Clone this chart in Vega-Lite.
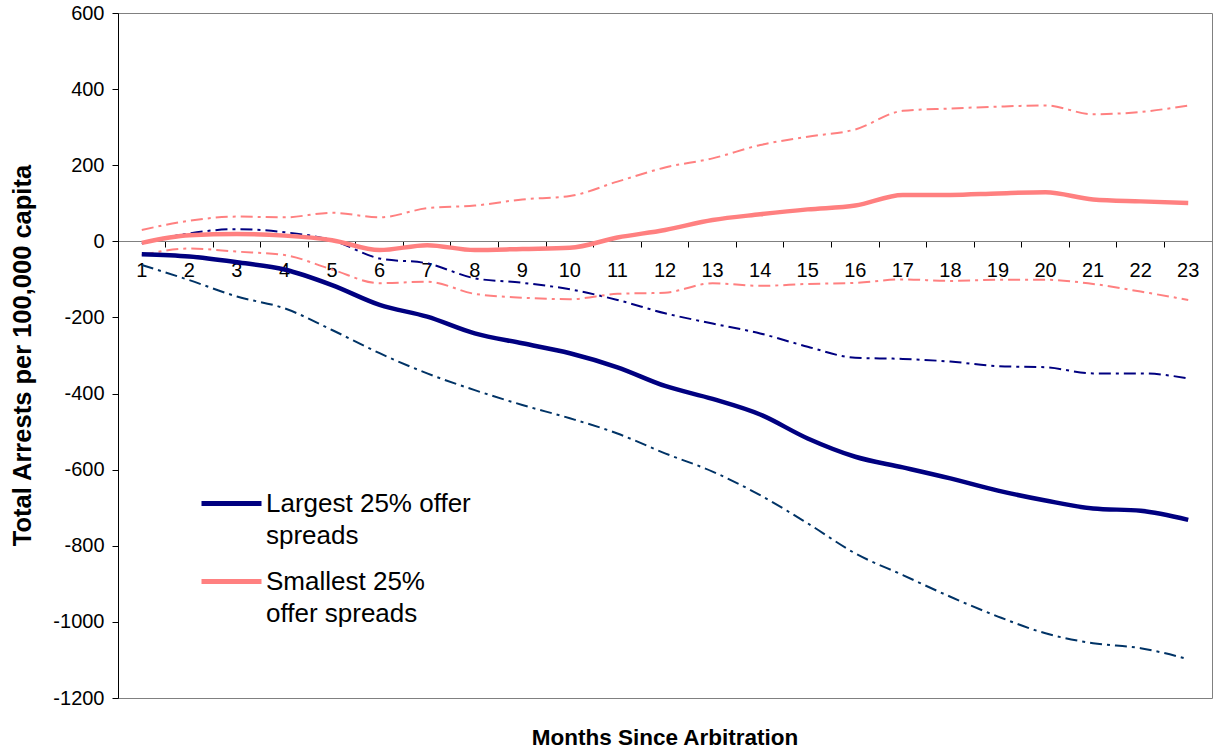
{
  "$schema": "https://vega.github.io/schema/vega-lite/v6.json",
  "width": 1094,
  "height": 685,
  "autosize": {"type": "none"},
  "padding": {"left": 118, "top": 13, "right": 4, "bottom": 53},
  "config": {
    "font": "Liberation Sans",
    "view": {"stroke": "#808080", "strokeWidth": 1},
    "axis": {"grid": false}
  },
  "title": {
    "text": "Months Since Arbitration",
    "orient": "bottom",
    "frame": "group",
    "anchor": "middle",
    "fontSize": 22.5,
    "fontWeight": "bold",
    "font": "Liberation Sans",
    "color": "black",
    "offset": 19
  },
  "datasets": {
    "arrests": [
      {"month": 1, "group": "Largest 25% offer spreads", "line": "Largest estimate", "value": -34},
      {"month": 2, "group": "Largest 25% offer spreads", "line": "Largest estimate", "value": -40},
      {"month": 3, "group": "Largest 25% offer spreads", "line": "Largest estimate", "value": -55},
      {"month": 4, "group": "Largest 25% offer spreads", "line": "Largest estimate", "value": -74},
      {"month": 5, "group": "Largest 25% offer spreads", "line": "Largest estimate", "value": -115},
      {"month": 6, "group": "Largest 25% offer spreads", "line": "Largest estimate", "value": -167},
      {"month": 7, "group": "Largest 25% offer spreads", "line": "Largest estimate", "value": -198},
      {"month": 8, "group": "Largest 25% offer spreads", "line": "Largest estimate", "value": -242},
      {"month": 9, "group": "Largest 25% offer spreads", "line": "Largest estimate", "value": -268},
      {"month": 10, "group": "Largest 25% offer spreads", "line": "Largest estimate", "value": -294},
      {"month": 11, "group": "Largest 25% offer spreads", "line": "Largest estimate", "value": -331},
      {"month": 12, "group": "Largest 25% offer spreads", "line": "Largest estimate", "value": -380},
      {"month": 13, "group": "Largest 25% offer spreads", "line": "Largest estimate", "value": -414},
      {"month": 14, "group": "Largest 25% offer spreads", "line": "Largest estimate", "value": -455},
      {"month": 15, "group": "Largest 25% offer spreads", "line": "Largest estimate", "value": -518},
      {"month": 16, "group": "Largest 25% offer spreads", "line": "Largest estimate", "value": -566},
      {"month": 17, "group": "Largest 25% offer spreads", "line": "Largest estimate", "value": -594},
      {"month": 18, "group": "Largest 25% offer spreads", "line": "Largest estimate", "value": -623},
      {"month": 19, "group": "Largest 25% offer spreads", "line": "Largest estimate", "value": -655},
      {"month": 20, "group": "Largest 25% offer spreads", "line": "Largest estimate", "value": -681},
      {"month": 21, "group": "Largest 25% offer spreads", "line": "Largest estimate", "value": -702},
      {"month": 22, "group": "Largest 25% offer spreads", "line": "Largest estimate", "value": -708},
      {"month": 23, "group": "Largest 25% offer spreads", "line": "Largest estimate", "value": -732},

      {"month": 1, "group": "Largest 25% offer spreads", "line": "Largest upper", "value": -6},
      {"month": 2, "group": "Largest 25% offer spreads", "line": "Largest upper", "value": 21},
      {"month": 3, "group": "Largest 25% offer spreads", "line": "Largest upper", "value": 32},
      {"month": 4, "group": "Largest 25% offer spreads", "line": "Largest upper", "value": 24},
      {"month": 5, "group": "Largest 25% offer spreads", "line": "Largest upper", "value": 3},
      {"month": 6, "group": "Largest 25% offer spreads", "line": "Largest upper", "value": -45},
      {"month": 7, "group": "Largest 25% offer spreads", "line": "Largest upper", "value": -58},
      {"month": 8, "group": "Largest 25% offer spreads", "line": "Largest upper", "value": -97},
      {"month": 9, "group": "Largest 25% offer spreads", "line": "Largest upper", "value": -109},
      {"month": 10, "group": "Largest 25% offer spreads", "line": "Largest upper", "value": -126},
      {"month": 11, "group": "Largest 25% offer spreads", "line": "Largest upper", "value": -154},
      {"month": 12, "group": "Largest 25% offer spreads", "line": "Largest upper", "value": -189},
      {"month": 13, "group": "Largest 25% offer spreads", "line": "Largest upper", "value": -216},
      {"month": 14, "group": "Largest 25% offer spreads", "line": "Largest upper", "value": -242},
      {"month": 15, "group": "Largest 25% offer spreads", "line": "Largest upper", "value": -277},
      {"month": 16, "group": "Largest 25% offer spreads", "line": "Largest upper", "value": -306},
      {"month": 17, "group": "Largest 25% offer spreads", "line": "Largest upper", "value": -309},
      {"month": 18, "group": "Largest 25% offer spreads", "line": "Largest upper", "value": -316},
      {"month": 19, "group": "Largest 25% offer spreads", "line": "Largest upper", "value": -328},
      {"month": 20, "group": "Largest 25% offer spreads", "line": "Largest upper", "value": -331},
      {"month": 21, "group": "Largest 25% offer spreads", "line": "Largest upper", "value": -347},
      {"month": 22, "group": "Largest 25% offer spreads", "line": "Largest upper", "value": -347},
      {"month": 23, "group": "Largest 25% offer spreads", "line": "Largest upper", "value": -360},

      {"month": 1, "group": "Largest 25% offer spreads", "line": "Largest lower", "value": -62},
      {"month": 2, "group": "Largest 25% offer spreads", "line": "Largest lower", "value": -102},
      {"month": 3, "group": "Largest 25% offer spreads", "line": "Largest lower", "value": -145},
      {"month": 4, "group": "Largest 25% offer spreads", "line": "Largest lower", "value": -176},
      {"month": 5, "group": "Largest 25% offer spreads", "line": "Largest lower", "value": -233},
      {"month": 6, "group": "Largest 25% offer spreads", "line": "Largest lower", "value": -294},
      {"month": 7, "group": "Largest 25% offer spreads", "line": "Largest lower", "value": -347},
      {"month": 8, "group": "Largest 25% offer spreads", "line": "Largest lower", "value": -391},
      {"month": 9, "group": "Largest 25% offer spreads", "line": "Largest lower", "value": -430},
      {"month": 10, "group": "Largest 25% offer spreads", "line": "Largest lower", "value": -465},
      {"month": 11, "group": "Largest 25% offer spreads", "line": "Largest lower", "value": -505},
      {"month": 12, "group": "Largest 25% offer spreads", "line": "Largest lower", "value": -557},
      {"month": 13, "group": "Largest 25% offer spreads", "line": "Largest lower", "value": -605},
      {"month": 14, "group": "Largest 25% offer spreads", "line": "Largest lower", "value": -667},
      {"month": 15, "group": "Largest 25% offer spreads", "line": "Largest lower", "value": -741},
      {"month": 16, "group": "Largest 25% offer spreads", "line": "Largest lower", "value": -820},
      {"month": 17, "group": "Largest 25% offer spreads", "line": "Largest lower", "value": -877},
      {"month": 18, "group": "Largest 25% offer spreads", "line": "Largest lower", "value": -934},
      {"month": 19, "group": "Largest 25% offer spreads", "line": "Largest lower", "value": -986},
      {"month": 20, "group": "Largest 25% offer spreads", "line": "Largest lower", "value": -1030},
      {"month": 21, "group": "Largest 25% offer spreads", "line": "Largest lower", "value": -1056},
      {"month": 22, "group": "Largest 25% offer spreads", "line": "Largest lower", "value": -1069},
      {"month": 23, "group": "Largest 25% offer spreads", "line": "Largest lower", "value": -1098},

      {"month": 1, "group": "Smallest 25% offer spreads", "line": "Smallest estimate", "value": -4},
      {"month": 2, "group": "Smallest 25% offer spreads", "line": "Smallest estimate", "value": 16},
      {"month": 3, "group": "Smallest 25% offer spreads", "line": "Smallest estimate", "value": 19},
      {"month": 4, "group": "Smallest 25% offer spreads", "line": "Smallest estimate", "value": 15},
      {"month": 5, "group": "Smallest 25% offer spreads", "line": "Smallest estimate", "value": 3},
      {"month": 6, "group": "Smallest 25% offer spreads", "line": "Smallest estimate", "value": -23},
      {"month": 7, "group": "Smallest 25% offer spreads", "line": "Smallest estimate", "value": -10},
      {"month": 8, "group": "Smallest 25% offer spreads", "line": "Smallest estimate", "value": -23},
      {"month": 9, "group": "Smallest 25% offer spreads", "line": "Smallest estimate", "value": -20},
      {"month": 10, "group": "Smallest 25% offer spreads", "line": "Smallest estimate", "value": -17},
      {"month": 11, "group": "Smallest 25% offer spreads", "line": "Smallest estimate", "value": 10},
      {"month": 12, "group": "Smallest 25% offer spreads", "line": "Smallest estimate", "value": 30},
      {"month": 13, "group": "Smallest 25% offer spreads", "line": "Smallest estimate", "value": 56},
      {"month": 14, "group": "Smallest 25% offer spreads", "line": "Smallest estimate", "value": 71},
      {"month": 15, "group": "Smallest 25% offer spreads", "line": "Smallest estimate", "value": 84},
      {"month": 16, "group": "Smallest 25% offer spreads", "line": "Smallest estimate", "value": 94},
      {"month": 17, "group": "Smallest 25% offer spreads", "line": "Smallest estimate", "value": 122},
      {"month": 18, "group": "Smallest 25% offer spreads", "line": "Smallest estimate", "value": 122},
      {"month": 19, "group": "Smallest 25% offer spreads", "line": "Smallest estimate", "value": 126},
      {"month": 20, "group": "Smallest 25% offer spreads", "line": "Smallest estimate", "value": 129},
      {"month": 21, "group": "Smallest 25% offer spreads", "line": "Smallest estimate", "value": 110},
      {"month": 22, "group": "Smallest 25% offer spreads", "line": "Smallest estimate", "value": 105},
      {"month": 23, "group": "Smallest 25% offer spreads", "line": "Smallest estimate", "value": 101},

      {"month": 1, "group": "Smallest 25% offer spreads", "line": "Smallest upper", "value": 30},
      {"month": 2, "group": "Smallest 25% offer spreads", "line": "Smallest upper", "value": 54},
      {"month": 3, "group": "Smallest 25% offer spreads", "line": "Smallest upper", "value": 65},
      {"month": 4, "group": "Smallest 25% offer spreads", "line": "Smallest upper", "value": 63},
      {"month": 5, "group": "Smallest 25% offer spreads", "line": "Smallest upper", "value": 75},
      {"month": 6, "group": "Smallest 25% offer spreads", "line": "Smallest upper", "value": 63},
      {"month": 7, "group": "Smallest 25% offer spreads", "line": "Smallest upper", "value": 87},
      {"month": 8, "group": "Smallest 25% offer spreads", "line": "Smallest upper", "value": 94},
      {"month": 9, "group": "Smallest 25% offer spreads", "line": "Smallest upper", "value": 110},
      {"month": 10, "group": "Smallest 25% offer spreads", "line": "Smallest upper", "value": 119},
      {"month": 11, "group": "Smallest 25% offer spreads", "line": "Smallest upper", "value": 157},
      {"month": 12, "group": "Smallest 25% offer spreads", "line": "Smallest upper", "value": 194},
      {"month": 13, "group": "Smallest 25% offer spreads", "line": "Smallest upper", "value": 218},
      {"month": 14, "group": "Smallest 25% offer spreads", "line": "Smallest upper", "value": 253},
      {"month": 15, "group": "Smallest 25% offer spreads", "line": "Smallest upper", "value": 275},
      {"month": 16, "group": "Smallest 25% offer spreads", "line": "Smallest upper", "value": 294},
      {"month": 17, "group": "Smallest 25% offer spreads", "line": "Smallest upper", "value": 343},
      {"month": 18, "group": "Smallest 25% offer spreads", "line": "Smallest upper", "value": 349},
      {"month": 19, "group": "Smallest 25% offer spreads", "line": "Smallest upper", "value": 354},
      {"month": 20, "group": "Smallest 25% offer spreads", "line": "Smallest upper", "value": 357},
      {"month": 21, "group": "Smallest 25% offer spreads", "line": "Smallest upper", "value": 334},
      {"month": 22, "group": "Smallest 25% offer spreads", "line": "Smallest upper", "value": 340},
      {"month": 23, "group": "Smallest 25% offer spreads", "line": "Smallest upper", "value": 357},

      {"month": 1, "group": "Smallest 25% offer spreads", "line": "Smallest lower", "value": -36},
      {"month": 2, "group": "Smallest 25% offer spreads", "line": "Smallest lower", "value": -19},
      {"month": 3, "group": "Smallest 25% offer spreads", "line": "Smallest lower", "value": -27},
      {"month": 4, "group": "Smallest 25% offer spreads", "line": "Smallest lower", "value": -36},
      {"month": 5, "group": "Smallest 25% offer spreads", "line": "Smallest lower", "value": -74},
      {"month": 6, "group": "Smallest 25% offer spreads", "line": "Smallest lower", "value": -110},
      {"month": 7, "group": "Smallest 25% offer spreads", "line": "Smallest lower", "value": -106},
      {"month": 8, "group": "Smallest 25% offer spreads", "line": "Smallest lower", "value": -138},
      {"month": 9, "group": "Smallest 25% offer spreads", "line": "Smallest lower", "value": -148},
      {"month": 10, "group": "Smallest 25% offer spreads", "line": "Smallest lower", "value": -152},
      {"month": 11, "group": "Smallest 25% offer spreads", "line": "Smallest lower", "value": -138},
      {"month": 12, "group": "Smallest 25% offer spreads", "line": "Smallest lower", "value": -135},
      {"month": 13, "group": "Smallest 25% offer spreads", "line": "Smallest lower", "value": -110},
      {"month": 14, "group": "Smallest 25% offer spreads", "line": "Smallest lower", "value": -117},
      {"month": 15, "group": "Smallest 25% offer spreads", "line": "Smallest lower", "value": -112},
      {"month": 16, "group": "Smallest 25% offer spreads", "line": "Smallest lower", "value": -109},
      {"month": 17, "group": "Smallest 25% offer spreads", "line": "Smallest lower", "value": -100},
      {"month": 18, "group": "Smallest 25% offer spreads", "line": "Smallest lower", "value": -104},
      {"month": 19, "group": "Smallest 25% offer spreads", "line": "Smallest lower", "value": -101},
      {"month": 20, "group": "Smallest 25% offer spreads", "line": "Smallest lower", "value": -101},
      {"month": 21, "group": "Smallest 25% offer spreads", "line": "Smallest lower", "value": -112},
      {"month": 22, "group": "Smallest 25% offer spreads", "line": "Smallest lower", "value": -132},
      {"month": 23, "group": "Smallest 25% offer spreads", "line": "Smallest lower", "value": -154}
    ]
  },
  "data": {"name": "arrests"},
  "encoding": {
    "x": {
      "field": "month", "type": "ordinal",
      "scale": {"type": "band", "paddingInner": 0, "paddingOuter": 0},
      "axis": {
        "offset": -457, "title": null, "labelAngle": 0, "labelFontSize": 20, "labelColor": "black",
        "ticks": true, "tickSize": 6, "tickColor": "black", "bandPosition": 0,
        "labelDx": 23.8, "labelPadding": 13,
        "domain": true, "domainColor": "#808080"
      }
    },
    "y": {
      "field": "value", "type": "quantitative",
      "scale": {"domain": [-1200, 600], "nice": false},
      "axis": {
        "values": [-1200, -1000, -800, -600, -400, -200, 0, 200, 400, 600],
        "labelExpr": "'' + datum.value",
        "title": "Total Arrests per 100,000 capita",
        "titleFontSize": 25.5, "titleFontWeight": "bold", "titleColor": "black",
        "titleX": -96, "titleY": 342, "titleBaseline": "middle", "titleAngle": -90,
        "labelFontSize": 20, "labelColor": "black", "labelPadding": 8,
        "tickSize": 6, "tickColor": "black", "domainColor": "black"
      }
    }
  },
  "layer": [
    {
      "transform": [{"filter": "datum.line != 'Largest estimate' && datum.line != 'Smallest estimate'"}],
      "mark": {"type": "line", "strokeWidth": 2, "strokeDash": [12, 5, 3, 5], "interpolate": "monotone"},
      "encoding": {
        "color": {
          "field": "line", "type": "nominal", "legend": null,
          "scale": {"domain": ["Largest upper", "Largest lower", "Smallest upper", "Smallest lower"], "range": ["#000080", "#003366", "#FF8080", "#FF8080"]}
        },
        "detail": {"field": "line"}
      }
    },
    {
      "transform": [{"filter": "datum.line == 'Largest estimate' || datum.line == 'Smallest estimate'"}],
      "mark": {"type": "line", "strokeWidth": 4.5, "interpolate": "monotone"},
      "encoding": {
        "color": {
          "field": "group", "type": "nominal",
          "scale": {"domain": ["Largest 25% offer spreads", "Smallest 25% offer spreads"], "range": ["#000080", "#FF8080"]},
          "legend": {
            "orient": "none", "legendX": 81, "legendY": 458, "title": null,
            "symbolType": "stroke", "symbolSize": 3600, "symbolStrokeWidth": 5,
            "labelFontSize": 26, "labelFont": "Liberation Sans", "labelColor": "black",
            "labelOffset": 2, "rowPadding": -26, "labelLimit": 500,
            "labelExpr": "datum.label == 'Largest 25% offer spreads' ? ['Largest 25% offer', 'spreads'] : ['Smallest 25%', 'offer spreads']",
            "encode": {"labels": {"update": {"lineHeight": {"value": 32}}}}
          }
        }
      }
    }
  ],
  "resolve": {"scale": {"color": "independent"}}
}
